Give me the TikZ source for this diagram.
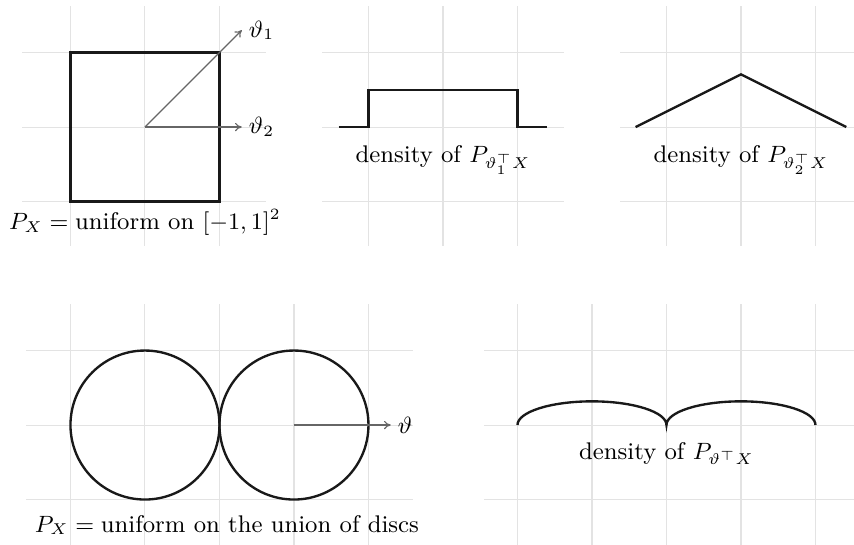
\documentclass[tikz,border=0pt]{standalone}
\usepackage{amsmath}
\usetikzlibrary{arrows.meta}
\begin{document}
\begin{tikzpicture}[
  every node/.style={font=\fontsize{9.2}{11}\selectfont, text=black},
  gridline/.style={line width=0.4pt, draw=gray!22},
  curve/.style={line width=0.9pt, black!90},
  vec/.style={line width=0.45pt, black!60, -{To[length=2.6pt,width=3.2pt]}},
  lbl/.style={anchor=base, inner sep=0pt}
]
\useasboundingbox (-1.946,1.705) rectangle (9.517,-5.597);
% ---------- panel A: square ----------
\begin{scope}
  \draw[gridline] (-1.65,-1.6) grid (1.62,1.62);
  \draw[curve] (-1,-1) rectangle (1,1);
  \coordinate (oA) at (0,0);
  \coordinate (t1) at (1.3,1.3);
  \coordinate (t2) at (1.3,0);
  \draw[vec] (oA) -- (t1) node[right, inner sep=2.5pt] (th1) {$\vartheta_1$};
  \draw[vec] (oA) -- (t2) node[right, inner sep=2.5pt] (th2) {$\vartheta_2$};
  \node[lbl] (labA) at (0,-1.38) {$P_X = \text{uniform on } [-1,1]^2$};
\end{scope}
% ---------- panel B: step ----------
\begin{scope}[shift={(4,0)}]
  \draw[gridline] (-1.62,-1.6) grid (1.62,1.62);
  \draw[curve] (-1.4,0) -- (-1,0) -- (-1,0.5) -- (1,0.5) -- (1,0) -- (1.4,0);
  \node[lbl] (labB) at (0,-0.47) {density of $P_{\vartheta_1^\top X}$};
\end{scope}
% ---------- panel C: triangle ----------
\begin{scope}[shift={(8,0)}]
  \draw[gridline] (-1.62,-1.6) grid (1.62,1.62);
  \draw[curve] (-1.414,0) -- (0,0.707) -- (1.414,0);
  \node[lbl] (labC) at (0,-0.47) {density of $P_{\vartheta_2^\top X}$};
\end{scope}
% ---------- panel D: discs ----------
\begin{scope}[shift={(1,-4)}]
  \draw[gridline] (-2.6,-1.62) grid (2.6,1.62);
  \draw[curve] (-1,0) circle (1);
  \draw[curve] (1,0) circle (1);
  \coordinate (oD) at (1,0);
  \coordinate (tD) at (2.3,0);
  \draw[vec] (oD) -- (tD) node[right, inner sep=2.5pt] (thD) {$\vartheta$};
  \node[lbl] (labD) at (0.1,-1.44) {$P_X = \text{uniform on the union of discs}$};
\end{scope}
% ---------- panel E: bumps ----------
\begin{scope}[shift={(7,-4)}]
  \draw[gridline] (-2.45,-1.62) grid (2.62,1.62);
  \draw[curve] (-2,0) arc[start angle=180, end angle=0, x radius=1, y radius=0.318]
               arc[start angle=180, end angle=0, x radius=1, y radius=0.318];
  \node[lbl] (labE) at (0,-0.46) {density of $P_{\vartheta^\top X}$};
\end{scope}
\end{tikzpicture}
\end{document}
